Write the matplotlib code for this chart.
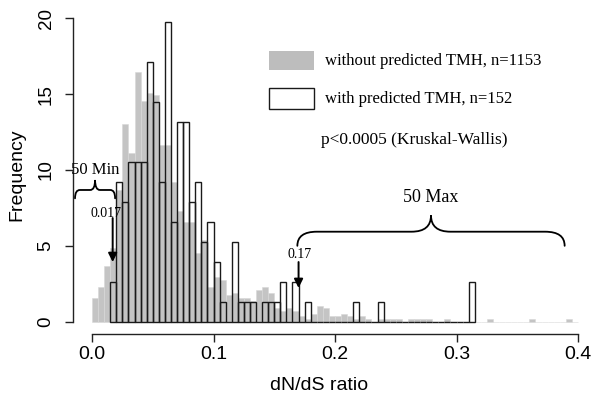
import numpy as np
import matplotlib
matplotlib.use("Agg")
import matplotlib.pyplot as plt
from matplotlib.path import Path
from matplotlib.patches import PathPatch, Rectangle

# histogram settings (bins of 0.005 in dN/dS)
bin_width = 0.005
n_without = 1153
n_with = 152

# counts per bin, genes without predicted TMH, bins start at 0.000
without_start = 0.0
without_counts = [9, 13, 21, 28, 50, 75, 64, 95, 84, 87,
                  86, 67, 67, 53, 42, 38, 38, 26, 31, 13,
                  17, 16, 10, 11, 9, 9, 8, 12, 13, 11,
                  5, 4, 5, 4, 2, 1, 3, 6, 5, 2,
                  2, 3, 2, 1, 2, 1, 0, 1, 1, 1,
                  1, 0, 1, 1, 1, 1, 0, 0, 1, 0,
                  0, 0, 0, 0, 0, 1, 0, 0, 0, 0,
                  0, 0, 1, 0, 0, 0, 0, 0, 1, 0]

# counts per bin, genes with predicted TMH, bins start at 0.015
with_start = 0.015
with_counts = [2, 7, 6, 8, 8, 8, 13, 11, 7, 15,
               5, 10, 10, 6, 7, 4, 5, 3, 1, 0,
               4, 1, 1, 1, 0, 1, 1, 1, 2, 0,
               2, 0, 1, 0, 0, 0, 0, 0, 0, 0,
               1, 0, 0, 0, 1, 0, 0, 0, 0, 0,
               0, 0, 0, 0, 0, 0, 0, 0, 0, 2]

x_ticks = [0.0, 0.1, 0.2, 0.3, 0.4]
x_tick_labels = ["0.0", "0.1", "0.2", "0.3", "0.4"]
y_ticks = [0, 5, 10, 15, 20]

min_value = 0.017
max_value = 0.17

SANS = "Liberation Sans"
SERIF = "Liberation Serif"


def brace(ax, x0, x1, y_end, y_mid, y_tip, r):
    """Draw an upward pointing curly brace between x0 and x1."""
    xc = (x0 + x1) / 2
    verts = [(x0, y_end), (x0, y_mid), (x0 + r, y_mid),
             (xc - r, y_mid),
             (xc, y_mid), (xc, y_tip),
             (xc, y_mid), (xc + r, y_mid),
             (x1 - r, y_mid),
             (x1, y_mid), (x1, y_end)]
    codes = [Path.MOVETO, Path.CURVE3, Path.CURVE3,
             Path.LINETO,
             Path.CURVE3, Path.CURVE3,
             Path.CURVE3, Path.CURVE3,
             Path.LINETO,
             Path.CURVE3, Path.CURVE3]
    ax.add_patch(PathPatch(Path(verts, codes), fill=False, lw=1.3,
                           color="black", capstyle="round"))


def main():
    fig = plt.figure(figsize=(5.93, 3.96), dpi=100)
    ax = fig.add_axes([0.1224, 0.1571, 0.8851, 0.8274])

    # gray histogram (density)
    gray_left = without_start + bin_width * np.arange(len(without_counts))
    gray_h = np.array(without_counts) / (n_without * bin_width)
    ax.bar(gray_left, gray_h, width=bin_width, align="edge",
           color="#c4c4c4", edgecolor="#d8d8d8", linewidth=0.4, zorder=1)

    # open histogram (density)
    white_left = with_start + bin_width * np.arange(len(with_counts))
    white_h = np.array(with_counts) / (n_with * bin_width)
    ax.bar(white_left, white_h, width=bin_width, align="edge",
           facecolor="none", edgecolor="#1a1a1a", linewidth=1.0, zorder=2)

    ax.set_xlim(-0.016, 0.416)
    ax.set_ylim(-0.8, 20.8)

    # R style axes
    for side in ["top", "right"]:
        ax.spines[side].set_visible(False)
    ax.spines["left"].set_bounds(0, 20)
    ax.spines["bottom"].set_bounds(0, 0.4)
    for side in ["left", "bottom"]:
        ax.spines[side].set_linewidth(1.0)
        ax.spines[side].set_color("#222222")

    ax.set_xticks(x_ticks)
    ax.set_xticklabels(x_tick_labels, family=SANS, fontsize=14)
    ax.set_yticks(y_ticks)
    ax.set_yticklabels([str(v) for v in y_ticks], family=SANS, fontsize=13.5,
                       rotation=90, va="center")
    ax.tick_params(axis="x", length=6, width=1.0, color="#222222", pad=3)
    ax.tick_params(axis="y", length=6, width=1.0, color="#222222", pad=7)

    ax.set_xlabel("dN/dS ratio", family=SANS, fontsize=14)
    ax.xaxis.set_label_coords(0.4695, -0.132)
    ax.set_ylabel("Frequency", family=SANS, fontsize=14)
    ax.yaxis.set_label_coords(-0.0906, 0.485)

    # legend
    ax.add_patch(Rectangle((0.146, 16.59), 0.037, 1.28, facecolor="#bdbdbd",
                           edgecolor="none", zorder=3))
    ax.add_patch(Rectangle((0.146, 14.0), 0.037, 1.4, facecolor="white",
                           edgecolor="#1a1a1a", lw=1.0, zorder=3))
    ax.text(0.192, 17.2, "without predicted TMH, n=%d" % n_without,
            family=SERIF, fontsize=12, va="center", ha="left")
    ax.text(0.192, 14.7, "with predicted TMH, n=%d" % n_with,
            family=SERIF, fontsize=12, va="center", ha="left")
    ax.text(0.265, 11.98, "p<0.0005 (Kruskal-Wallis)",
            family=SERIF, fontsize=12.5, va="center", ha="center")

    # 50 Min / 50 Max annotations
    brace(ax, -0.014, 0.019, 8.13, 8.68, 9.34, 0.004)
    ax.text(0.0025, 10.0, "50 Min", family=SERIF, fontsize=12,
            va="center", ha="center")
    ax.text(0.0115, 7.1, str(min_value), family=SERIF, fontsize=10,
            va="center", ha="center")
    ax.annotate("", xy=(min_value, 3.93), xytext=(min_value, 6.83),
                arrowprops=dict(arrowstyle="-|>", color="black", lw=1.4,
                                mutation_scale=13, shrinkA=0, shrinkB=0))

    brace(ax, max_value - 0.001, 0.389, 5.0, 5.93, 7.0, 0.016)
    ax.text(0.279, 8.2, "50 Max", family=SERIF, fontsize=13,
            va="center", ha="center")
    ax.text(0.171, 4.45, str(max_value), family=SERIF, fontsize=10,
            va="center", ha="center")
    ax.annotate("", xy=(max_value, 2.22), xytext=(max_value, 3.93),
                arrowprops=dict(arrowstyle="-|>", color="black", lw=1.4,
                                mutation_scale=13, shrinkA=0, shrinkB=0))

    fig.savefig("out.png", dpi=100)
    plt.close(fig)


if __name__ == "__main__":
    main()
